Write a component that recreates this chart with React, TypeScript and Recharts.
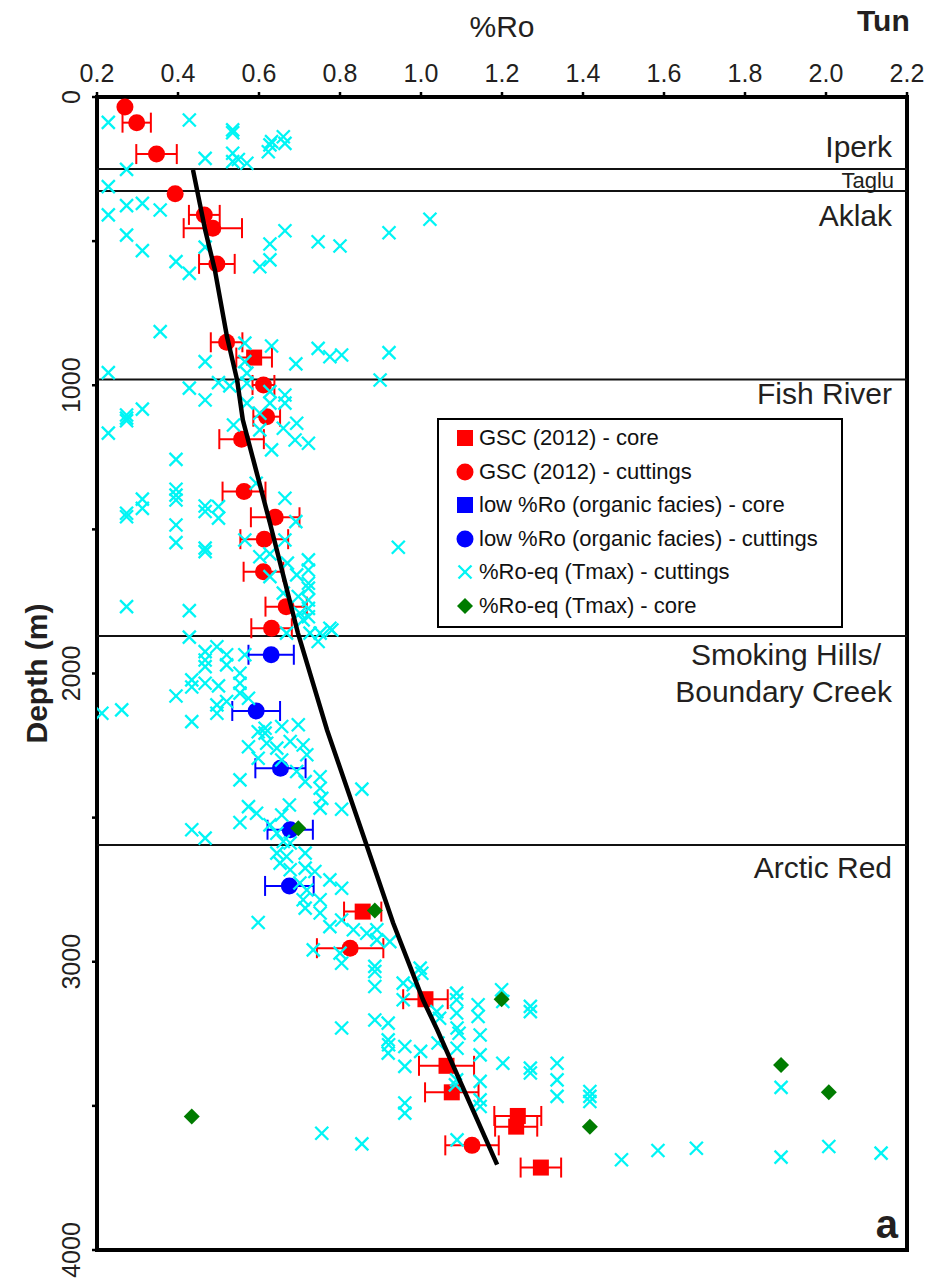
import { ScatterChart, Scatter, XAxis, YAxis, ErrorBar, ReferenceLine, ReferenceArea, Legend } from 'recharts'

document.body.style.margin = '0'

const FONT = '"Liberation Sans", Arial, Helvetica, sans-serif'
const INK = '#231f20'
const RED = '#ff0000'
const BLUE = '#0000ff'
const CYAN = '#00f5f5'
const GREEN = '#007c00'

const RO_TICKS = [0.2, 0.4, 0.6, 0.8, 1.0, 1.2, 1.4, 1.6, 1.8, 2.0, 2.2]
const DEPTH_TICKS = [0, 500, 1000, 1500, 2000, 2500, 3000, 3500, 4000]

// formation tops (m)
const FORMATION_TOPS = [250, 326, 980, 1870, 2595]

// [%Ro, depth, error]
const gscCore = [
  [0.588, 904, 0.044], [0.856, 2826, 0.046], [1.011, 3130, 0.055], [1.063, 3361, 0.068],
  [1.076, 3453, 0.066], [1.239, 3535, 0.058], [1.235, 3572, 0.052], [1.296, 3714, 0.05],
]

const gscCuttings = [
  [0.269, 35, 0], [0.298, 89, 0.035], [0.347, 198, 0.05], [0.393, 336, 0], [0.465, 409, 0.038],
  [0.486, 455, 0.072], [0.496, 579, 0.044], [0.52, 851, 0.039], [0.611, 999, 0.027],
  [0.619, 1109, 0.033], [0.557, 1187, 0.055], [0.563, 1369, 0.053], [0.64, 1458, 0.06],
  [0.613, 1534, 0.059], [0.611, 1647, 0.049], [0.667, 1768, 0.051], [0.631, 1843, 0.05],
  [0.825, 2953, 0.082], [1.126, 3637, 0.066],
]

const lowCuttings = [
  [0.63, 1935, 0.056], [0.593, 2130, 0.059], [0.653, 2329, 0.062], [0.677, 2542, 0.056], [0.675, 2737, 0.06],
]

// %Ro-eq from Tmax
const tmaxCuttings = [
  [0.228, 88], [0.428, 80], [0.535, 114], [0.535, 124], [0.627, 166], [0.631, 155], [0.66, 138],
  [0.664, 161], [0.623, 190], [0.273, 251], [0.467, 213], [0.535, 195], [0.535, 224], [0.549, 217],
  [0.57, 230], [0.228, 311], [0.273, 377], [0.312, 369], [0.356, 392], [0.228, 409], [0.273, 479],
  [0.312, 533], [0.467, 521], [0.627, 510], [0.664, 464], [0.627, 565], [0.602, 589], [0.395, 571],
  [0.428, 612], [0.746, 502], [0.8, 517], [0.921, 471], [1.022, 424],
  [0.356, 814], [0.467, 918], [0.565, 854], [0.631, 864], [0.565, 918], [0.57, 958], [0.691, 926],
  [0.746, 872], [0.775, 901], [0.804, 895], [0.921, 887], [0.899, 982], [0.228, 956],
  [0.428, 1010], [0.467, 1051], [0.5, 991], [0.528, 1002], [0.57, 993], [0.627, 1022], [0.664, 1034],
  [0.664, 1062], [0.627, 1062], [0.57, 1062], [0.312, 1083], [0.273, 1103],
  [0.228, 1166], [0.273, 1114], [0.273, 1123], [0.537, 1138], [0.602, 1097], [0.602, 1155],
  [0.66, 1149], [0.693, 1132], [0.689, 1190], [0.722, 1201], [0.631, 1224], [0.395, 1257],
  [0.395, 1361], [0.395, 1381], [0.395, 1398], [0.312, 1395], [0.312, 1427], [0.273, 1444],
  [0.273, 1456], [0.467, 1419], [0.5, 1421], [0.467, 1438], [0.5, 1461], [0.664, 1392], [0.395, 1485],
  [0.395, 1546], [0.467, 1565], [0.467, 1577], [0.593, 1340], [0.691, 1473], [0.565, 1537],
  [0.664, 1537], [0.602, 1595], [0.627, 1585], [0.67, 1617], [0.722, 1606], [0.722, 1641],
  [0.627, 1664], [0.693, 1658], [0.722, 1687], [0.722, 1704], [0.66, 1721], [0.697, 1733],
  [0.722, 1745], [0.722, 1774], [0.722, 1803], [0.701, 1791], [0.709, 1814], [0.668, 1860],
  [0.726, 1860], [0.751, 1860], [0.775, 1843], [0.78, 1849], [0.746, 1889], [0.944, 1562],
  [0.273, 1768], [0.428, 1782], [0.428, 1874], [0.467, 1924], [0.467, 1953], [0.496, 1907],
  [0.52, 1935], [0.565, 1935], [0.467, 1976], [0.52, 1970], [0.553, 1999], [0.434, 2022],
  [0.467, 2034], [0.5, 2043], [0.553, 2034], [0.395, 2078], [0.434, 2047], [0.553, 2068],
  [0.52, 2097], [0.496, 2109], [0.574, 2086], [0.496, 2138], [0.212, 2138], [0.261, 2126],
  [0.434, 2167], [0.615, 2190], [0.656, 2184], [0.697, 2178],
  [0.598, 2202], [0.615, 2207], [0.574, 2254], [0.619, 2242], [0.644, 2259], [0.677, 2236],
  [0.709, 2248], [0.718, 2282], [0.598, 2294], [0.656, 2300], [0.693, 2340], [0.714, 2375],
  [0.751, 2358], [0.751, 2398], [0.553, 2369], [0.755, 2433], [0.751, 2467], [0.854, 2401],
  [0.804, 2471], [0.675, 2456], [0.574, 2462], [0.594, 2485], [0.553, 2517], [0.656, 2491],
  [0.627, 2525], [0.434, 2542], [0.467, 2571], [0.644, 2554], [0.66, 2583], [0.677, 2588],
  [0.644, 2623], [0.668, 2635], [0.714, 2623], [0.652, 2658], [0.677, 2681], [0.714, 2675],
  [0.738, 2687], [0.775, 2716], [0.804, 2745], [0.701, 2727], [0.718, 2751], [0.709, 2785],
  [0.714, 2814], [0.751, 2785], [0.751, 2831], [0.598, 2864], [0.775, 2878], [0.804, 2855],
  [0.833, 2889], [0.866, 2901], [0.891, 2889], [0.891, 2924], [0.923, 2930], [0.734, 2959],
  [0.8, 2970], [0.804, 3005], [0.886, 3016], [0.886, 3034], [0.886, 3086], [0.998, 3022],
  [1.002, 3040], [0.956, 3074], [0.981, 3080], [1.088, 3109], [1.088, 3132], [1.141, 3149],
  [1.199, 3097], [0.956, 3132], [1.039, 3173], [1.088, 3178], [1.141, 3190], [0.886, 3202],
  [0.919, 3213], [0.804, 3230],
  [1.202, 3138], [1.27, 3155], [1.27, 3173], [1.046, 3196], [0.92, 3288], [1.089, 3230],
  [1.094, 3248], [1.146, 3254], [0.96, 3294], [0.999, 3311], [1.042, 3282], [1.089, 3300],
  [1.146, 3323], [0.96, 3363], [1.202, 3352], [1.27, 3369], [1.27, 3386], [1.336, 3352],
  [1.336, 3410], [1.336, 3467], [1.146, 3415], [1.085, 3427], [1.146, 3479], [1.146, 3502],
  [1.417, 3450], [1.417, 3467], [1.417, 3485], [0.96, 3490], [0.96, 3525], [1.089, 3618],
  [1.495, 3687], [1.585, 3655], [1.68, 3647], [1.889, 3436], [1.889, 3678], [2.007, 3641],
  [2.136, 3664], [0.919, 3271], [0.919, 3317], [1.088, 3410], [0.755, 3595], [0.854, 3632],
]

const tmaxCore = [
  [0.697, 2537], [0.886, 2822], [1.199, 3130], [1.889, 3358], [2.007, 3453], [0.434, 3537], [1.417, 3572],
]

// maturity trend
const trendLine = [
  [0.437, 253], [0.467, 461], [0.491, 600], [0.521, 832], [0.546, 982], [0.56, 1120], [0.627, 1478],
  [0.696, 1859], [0.768, 2196], [0.867, 2601], [0.931, 2865], [1.005, 3132], [1.04, 3236], [1.188, 3704],
]

const LEGEND_LABELS = [
  'GSC (2012) - core',
  'GSC (2012) - cuttings',
  'low %Ro (organic facies) - core',
  'low %Ro (organic facies) - cuttings',
  '%Ro-eq (Tmax) - cuttings',
  '%Ro-eq (Tmax) - core',
]
const LEGEND_MARKS = ['square', 'circle', 'square', 'circle', 'cross', 'diamond']
const LEGEND_COLORS = [RED, RED, BLUE, BLUE, CYAN, GREEN]

const toPoints = (rows: number[][]) => rows.map(([ro, depth, err]) => ({ ro, depth, err: err ?? 0 }))

function Mark({ kind, color, cx, cy }: { kind: string; color: string; cx: number; cy: number }) {
  if (kind === 'square') return <rect x={cx - 8} y={cy - 8} width={16} height={16} fill={color} />
  if (kind === 'circle') return <circle cx={cx} cy={cy} r={8.5} fill={color} />
  if (kind === 'diamond')
    return <polygon points={`${cx},${cy - 8} ${cx + 8},${cy} ${cx},${cy + 8} ${cx - 8},${cy}`} fill={color} />
  return (
    <g stroke={color} strokeWidth={2.3}>
      <line x1={cx - 6.5} y1={cy - 6.5} x2={cx + 6.5} y2={cy + 6.5} />
      <line x1={cx - 6.5} y1={cy + 6.5} x2={cx + 6.5} y2={cy - 6.5} />
    </g>
  )
}

function DepthTick({ x, y, payload }: any) {
  if (payload.value % 1000 !== 0) return <g />
  return (
    <text transform={`translate(${x - 10},${y}) rotate(-90)`} textAnchor="middle" fontSize={25} fontFamily={FONT} fill={INK}>
      {payload.value}
    </text>
  )
}

function formationText(viewBox: any, lines: string[], dy: number, size = 30, inset = 15) {
  const right = viewBox.x + viewBox.width - inset
  return (
    <g>
      {lines.map((t, i) => (
        <text key={t} x={right - (i === 0 && lines.length > 1 ? 11 : 0)} y={viewBox.y + dy + i * 37}
          textAnchor="end" fontSize={size} fontFamily={FONT} fill={INK}>
          {t}
        </text>
      ))}
    </g>
  )
}

function LegendBox() {
  return (
    <div style={{ boxSizing: 'border-box', width: 406, height: 210, border: '2px solid #000', background: '#fff', padding: '1.5px 0 0 17px', fontFamily: FONT }}>
      {LEGEND_LABELS.map((label, i) => (
        <div key={label} style={{ display: 'flex', alignItems: 'center', height: 33.5 }}>
          <svg width={18} height={20} style={{ marginRight: 5, flex: 'none' }}>
            <Mark kind={LEGEND_MARKS[i]} color={LEGEND_COLORS[i]} cx={9} cy={10} />
          </svg>
          <span style={{ fontSize: 22, color: '#111', whiteSpace: 'nowrap' }}>{label}</span>
        </div>
      ))}
    </div>
  )
}

export default function App() {
  const lineStyle = { stroke: '#111', strokeWidth: 2 }
  return (
    <div style={{ width: 926, height: 1280, background: '#fff' }}>
      <ScatterChart width={926} height={1280} margin={{ top: 0, right: 19, bottom: 30, left: 0 }}>
        <XAxis
          type="number"
          dataKey="ro"
          orientation="top"
          domain={[0.2, 2.2]}
          ticks={RO_TICKS}
          interval={0}
          allowDataOverflow
          height={97}
          axisLine={false}
          tickLine={{ stroke: '#000', strokeWidth: 2.5 }}
          tickSize={5}
          tickMargin={10}
          tickFormatter={(v: number) => v.toFixed(1)}
          tick={{ fontSize: 25, fill: INK, fontFamily: FONT }}
          label={(p: any) => (
            <g>
              <text x={p.viewBox.x + p.viewBox.width / 2} y={37} textAnchor="middle" fontSize={30} fontFamily={FONT} fill={INK}>%Ro</text>
              <text x={p.viewBox.x + p.viewBox.width - 50} y={31} fontSize={30} fontWeight="bold" fontFamily={FONT} fill={INK}>Tun</text>
            </g>
          )}
        />
        <YAxis
          type="number"
          dataKey="depth"
          domain={[0, 4000]}
          reversed
          ticks={DEPTH_TICKS}
          interval={0}
          allowDataOverflow
          width={97}
          axisLine={false}
          tickLine={{ stroke: '#000', strokeWidth: 2.5 }}
          tickSize={5}
          tick={<DepthTick />}
          label={(p: any) => (
            <text transform={`translate(47,${p.viewBox.y + p.viewBox.height / 2}) rotate(-90)`} textAnchor="middle"
              fontSize={30} fontWeight="bold" fontFamily={FONT} fill={INK}>
              Depth (m)
            </text>
          )}
        />
        <Legend layout="vertical" align="center" verticalAlign="middle" content={() => <LegendBox />}
          wrapperStyle={{ left: 437, top: 418, width: 406, height: 210 }} />

        <ReferenceLine y={FORMATION_TOPS[0]} {...lineStyle}
          label={(p: any) => (
            <g>
              {formationText(p.viewBox, ['Iperk'], -12)}
              {formationText(p.viewBox, ['Taglu'], 19, 22, 13)}
            </g>
          )} />
        <ReferenceLine y={FORMATION_TOPS[1]} {...lineStyle} label={(p: any) => formationText(p.viewBox, ['Aklak'], 35)} />
        <ReferenceLine y={FORMATION_TOPS[2]} {...lineStyle} label={(p: any) => formationText(p.viewBox, ['Fish River'], 25)} />
        <ReferenceLine y={FORMATION_TOPS[3]} {...lineStyle}
          label={(p: any) => formationText(p.viewBox, ['Smoking Hills/', 'Boundary Creek'], 29)} />
        <ReferenceLine y={FORMATION_TOPS[4]} {...lineStyle} label={(p: any) => formationText(p.viewBox, ['Arctic Red'], 33)} />

        <Scatter data={toPoints(gscCuttings)} isAnimationActive={false}
          shape={(p: any) => <Mark kind="circle" color={RED} cx={p.cx} cy={p.cy} />}>
          <ErrorBar dataKey="err" direction="x" width={10} stroke={RED} strokeWidth={2} />
        </Scatter>
        <Scatter data={toPoints(gscCore)} isAnimationActive={false}
          shape={(p: any) => <Mark kind="square" color={RED} cx={p.cx} cy={p.cy} />}>
          <ErrorBar dataKey="err" direction="x" width={10} stroke={RED} strokeWidth={2} />
        </Scatter>
        <Scatter data={toPoints(lowCuttings)} isAnimationActive={false}
          shape={(p: any) => <Mark kind="circle" color={BLUE} cx={p.cx} cy={p.cy} />}>
          <ErrorBar dataKey="err" direction="x" width={10} stroke={BLUE} strokeWidth={2} />
        </Scatter>
        <Scatter data={toPoints(tmaxCuttings)} isAnimationActive={false}
          shape={(p: any) => <Mark kind="cross" color={CYAN} cx={p.cx} cy={p.cy} />} />
        <Scatter data={toPoints(tmaxCore)} isAnimationActive={false}
          shape={(p: any) => <Mark kind="diamond" color={GREEN} cx={p.cx} cy={p.cy} />} />
        <Scatter data={toPoints(trendLine)} isAnimationActive={false} line={{ stroke: '#000', strokeWidth: 4.5 }}
          shape={() => <g />} />

        <ReferenceArea x1={0.2} x2={2.2} y1={0} y2={4000} fill="none" fillOpacity={0} stroke="#000" strokeWidth={4}
          label={(p: any) => (
            <text x={p.viewBox.x + p.viewBox.width - 9} y={p.viewBox.y + p.viewBox.height - 12} textAnchor="end"
              fontSize={40} fontWeight="bold" fontFamily={FONT} fill={INK}>
              a
            </text>
          )} />
      </ScatterChart>
    </div>
  )
}
